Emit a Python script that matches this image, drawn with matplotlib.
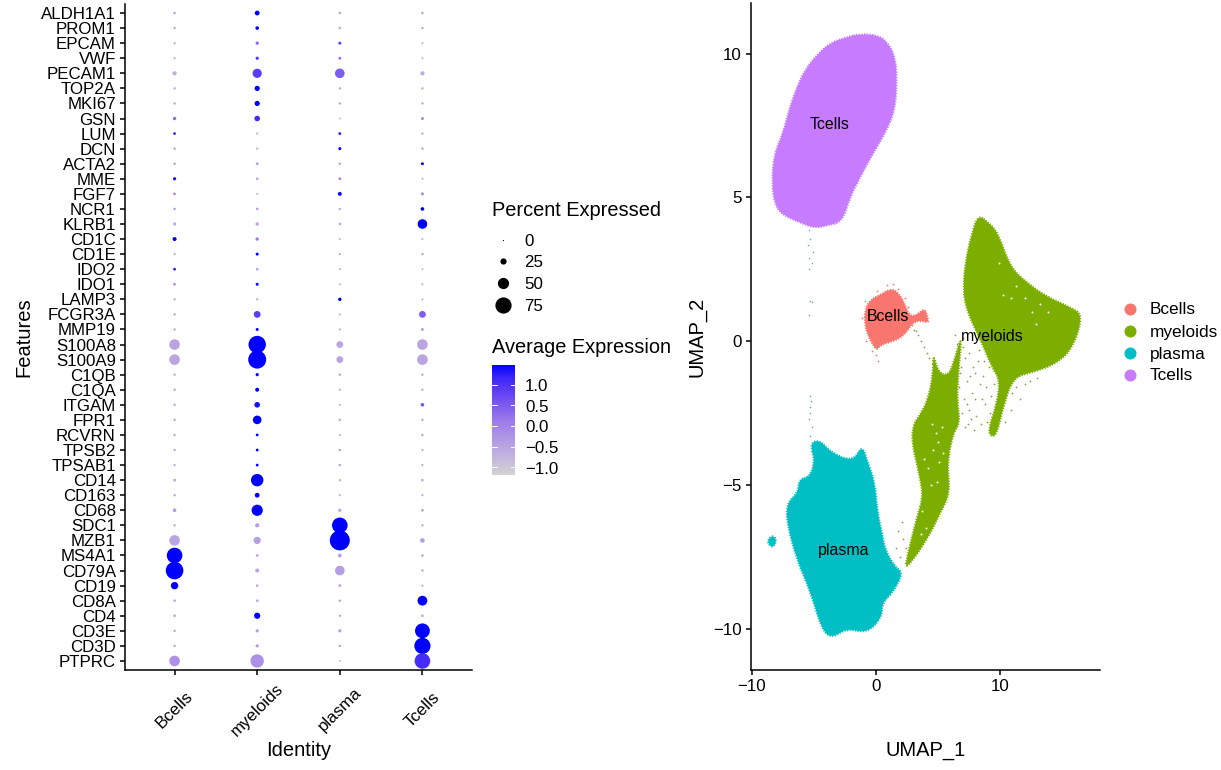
import numpy as np
import matplotlib
matplotlib.use('Agg')
import matplotlib.pyplot as plt
from matplotlib.colors import LinearSegmentedColormap
from matplotlib.patches import PathPatch
from matplotlib.path import Path

plt.rcParams['font.family'] = ['Liberation Sans', 'DejaVu Sans']

W, H = 1221, 770

# Dot plot data, rows from top to bottom
features = ['ALDH1A1', 'PROM1', 'EPCAM', 'VWF', 'PECAM1', 'TOP2A', 'MKI67', 'GSN', 'LUM', 'DCN', 'ACTA2',
            'MME', 'FGF7', 'NCR1', 'KLRB1', 'CD1C', 'CD1E', 'IDO2', 'IDO1', 'LAMP3', 'FCGR3A', 'MMP19',
            'S100A8', 'S100A9', 'C1QB', 'C1QA', 'ITGAM', 'FPR1', 'RCVRN', 'TPSB2', 'TPSAB1', 'CD14',
            'CD163', 'CD68', 'SDC1', 'MZB1', 'MS4A1', 'CD79A', 'CD19', 'CD8A', 'CD4', 'CD3E', 'CD3D', 'PTPRC']
identities = ['Bcells', 'myeloids', 'plasma', 'Tcells']

pct_bcells = [7, 6, 6, 5, 15, 6, 6, 11, 8, 6, 6, 10, 7, 6, 9, 14, 5, 8, 7, 5, 6, 6,
              47, 47, 6, 6, 6, 6, 6, 6, 5, 8, 6, 12, 6, 47, 72, 82, 31, 7, 7, 6, 6, 47]
pct_myeloids = [18, 12, 10, 10, 40, 20, 20, 22, 6, 6, 8, 7, 5, 7, 11, 11, 9, 7, 9, 5, 28, 9,
                81, 84, 10, 14, 22, 37, 8, 8, 8, 56, 18, 50, 15, 30, 8, 14, 7, 7, 25, 10, 10, 61]
pct_plasma = [7, 6, 9, 8, 42, 6, 6, 5, 8, 9, 6, 8, 14, 5, 7, 5, 5, 5, 5, 11, 5, 5,
              28, 28, 6, 5, 5, 6, 5, 6, 6, 6, 5, 10, 72, 94, 13, 42, 8, 6, 6, 10, 6, 5]
pct_tcells = [7, 6, 5, 5, 15, 6, 6, 9, 6, 6, 9, 5, 9, 12, 42, 5, 6, 4, 5, 4, 28, 8,
              47, 47, 6, 6, 12, 6, 6, 5, 5, 7, 5, 8, 6, 17, 7, 6, 5, 43, 7, 68, 75, 72]

avg_bcells = [-0.5, -0.5, -0.7, -0.7, -0.6, -0.5, -0.5, 0.3, 1.2, -0.3, -0.3, 1.4, 0.1, -0.2, -0.5, 1.5, -0.5, 1.3, 0.0, -0.5, -0.5, -0.5,
              -0.5, -0.5, -0.5, -0.5, -0.5, -0.5, -0.5, -0.5, -0.5, -0.5, -0.5, -0.3, -0.5, -0.5, 1.5, 1.5, 1.5, -0.5, -0.4, -0.5, -0.5, -0.2]
avg_myeloids = [1.5, 1.5, 0.4, 1.0, 0.9, 1.5, 1.5, 1.1, -0.9, -0.8, -0.4, -0.5, -0.9, -0.4, -0.5, 0.1, 1.5, -0.4, 1.4, -0.5, 0.9, 1.5,
                1.5, 1.5, 1.5, 1.5, 1.4, 1.5, 1.5, 1.5, 1.5, 1.5, 1.5, 1.5, -0.4, -0.4, -0.5, -0.5, -0.5, -0.5, 1.5, -0.4, -0.4, -0.2]
avg_plasma = [-0.5, -0.5, 0.9, 0.3, 0.5, -0.5, -0.5, -1.0, 1.3, 1.5, -0.4, 0.0, 1.4, -0.4, -0.5, -0.8, -0.5, -0.7, -0.8, 1.5, -0.7, -0.6,
              -0.5, -0.5, -0.4, -0.5, -0.7, -0.5, -0.7, -0.4, -0.4, -0.6, -0.7, -0.5, 1.5, 1.5, -0.4, -0.4, -0.4, -0.4, -0.5, -0.4, -0.4, -1.0]
avg_tcells = [-0.5, -0.5, -0.8, -0.8, -0.6, -0.5, -0.5, -0.1, -0.6, -0.5, 1.5, -0.8, -0.1, 1.5, 1.5, -0.8, -0.5, -0.8, -0.8, -0.5, 0.5, -0.3,
              -0.5, -0.5, -0.5, -0.6, 0.6, -0.5, -0.5, -0.6, -0.6, -0.5, -0.6, -0.5, -0.5, -0.4, -0.5, -0.5, -0.6, 1.5, -0.5, 1.5, 1.5, 1.1]

size_legend = [0, 25, 50, 75]
colorbar_ticks = [1.0, 0.5, 0.0, -0.5, -1.0]
avg_min, avg_max = -1.2, 1.5

# UMAP cluster outlines (UMAP_1, UMAP_2)
tcells_x = [-1.29, 0.16, 0.97, 1.53, 1.69, 1.53, 0.73, -0.24, -1.29, -2.10, -2.74, -3.95, -4.92, -5.97, -7.50, -8.15, -8.39, -8.23, -7.50, -6.94, -6.37, -5.73, -4.76, -3.71, -2.34]
tcells_y = [10.68, 10.64, 10.37, 9.88, 9.18, 8.03, 7.23, 6.54, 5.70, 5.01, 4.14, 4.03, 3.93, 4.10, 4.38, 4.73, 5.50, 6.47, 7.23, 8.14, 8.83, 9.43, 9.95, 10.37, 10.57]

bcells_x = [-0.89, -0.48, 0.32, 1.29, 1.94, 2.34, 2.66, 3.15, 3.55, 3.95, 4.11, 4.27, 3.55, 2.90, 2.58, 1.94, 1.13, 0.32, 0.08, -0.24, -0.65, -0.89]
bcells_y = [1.08, 1.43, 1.60, 1.84, 1.60, 1.25, 0.90, 0.87, 1.01, 1.11, 0.87, 0.63, 0.73, 0.63, 0.38, 0.10, -0.03, -0.14, -0.31, -0.14, 0.21, 0.56]

myeloid_x = [8.23, 7.74, 7.18, 7.02, 7.42, 8.15, 8.79, 9.35, 10.0, 9.76, 9.03, 9.35, 9.76, 10.24, 11.05, 12.66, 14.60, 15.89, 16.69, 15.65, 13.79, 12.18, 10.81, 9.84, 9.03]
myeloid_y = [4.38, 3.76, 2.71, 1.67, 0.97, 0.28, -0.31, -0.90, -1.36, -2.16, -3.10, -3.34, -3.20, -2.30, -1.25, -1.08, -0.77, -0.21, 0.90, 1.18, 1.53, 2.02, 2.57, 3.76, 4.14]

strand_x = [4.60, 5.00, 5.81, 6.29, 6.94, 6.61, 6.53, 6.77, 6.21, 5.73, 5.97, 5.16, 4.11, 2.34, 2.50, 3.31, 3.79, 3.55, 2.90, 2.98, 3.55, 4.19, 4.60]
strand_y = [-0.42, -1.08, -1.22, -0.73, 0.28, -1.18, -2.05, -2.85, -3.20, -4.24, -5.29, -5.98, -6.92, -7.97, -7.51, -6.12, -5.43, -4.73, -3.55, -2.92, -2.57, -2.05, -1.18]

plasma_x = [-5.32, -4.52, -3.71, -1.85, -1.13, -0.73, -0.08, 0.08, 0.48, 0.73, 1.53, 2.18, 1.37, 0.48, 0.48, -0.73, -2.34, -3.55, -4.35, -5.32, -6.37, -7.18, -7.18, -6.29, -6.21, -5.32, -4.92]
plasma_y = [-3.55, -3.44, -3.86, -4.21, -3.62, -4.14, -4.94, -5.88, -6.68, -7.27, -7.86, -8.07, -8.73, -9.11, -9.60, -10.16, -9.98, -10.33, -10.05, -8.66, -7.62, -6.33, -5.63, -5.29, -4.80, -4.73, -4.14]

island_x = [-8.8, -8.4, -8.0, -8.3]
island_y = [-7.0, -6.75, -6.9, -7.2]

# stray cells
trail_x = [-5.4, -5.3, -5.5, -5.1, -5.4, -5.2, -5.4, -5.3, -5.2, -5.4, -5.3, -5.3, -5.4, -5.2, -5.3, -5.25, -5.35]
trail_y = [3.85, 3.55, 3.35, 3.1, 2.9, 2.7, 2.5, 1.4, 1.35, 0.9, -1.9, -2.3, -2.7, -3.0, -3.3, -2.1, -2.5]
stray_x = [7.0, 7.2, 6.8, 7.5, 7.8, 8.2, 8.6, 8.9, 9.1, 7.3, 7.7, 8.0, 8.4, 8.8, 9.2, 7.1, 7.5, 8.1, 8.5, 7.4, 7.9, 8.7,
           6.9, 7.2, 7.6, 3.1, 3.4, 3.6, 3.9, 4.1, 4.3, 2.9, 3.2, 11.0, 10.6, 10.4, 10.9, 12.0, 1.6, 1.9, 2.2, 2.4, 2.7, 1.2, 1.8, 2.1,
           6.7, 6.85, 7.05, 7.35, 7.65, 7.95, 8.3, 8.55, 8.95, 9.3, 9.5, 10.5, 11.3, 11.6, 12.4, 13.0, 6.5, 6.6, 6.4]
stray_y = [-0.2, -0.6, -1.1, -0.4, -0.9, -0.7, -1.2, -1.6, -0.9, -1.4, -1.8, -2.0, -1.5, -2.2, -2.5, -2.0, -2.4, -2.6, -2.9, -2.9, -3.1, -0.7,
           -2.5, -3.0, -1.2, 0.4, 0.2, 0.0, -0.2, -0.4, -0.6, 0.55, 0.35, -1.8, -1.5, -2.8, -2.4, -1.5, -7.2, -7.5, -6.9, -7.2, -7.6, -7.7, -6.6, -6.3,
           -1.6, -0.9, 0.1, -2.2, -2.7, -1.1, -0.3, -2.0, -2.8, -1.9, -1.5, -1.6, -1.6, -2.0, -1.4, -1.3, -0.1, -0.5, 0.2]
bfringe_x = [1.4, 0.9, 0.1, -0.9, -1.1, -0.8, 0.0, 0.2, -0.3, 1.8, 2.3, 2.6]
bfringe_y = [2.0, 1.95, 1.75, 1.4, 0.8, 0.0, -0.5, -0.7, -0.35, 1.8, 1.5, 1.2]
# small gaps inside the strand and the wing
hole_x = [4.5, 4.8, 5.0, 5.3, 4.6, 5.1, 4.2, 3.9, 4.4, 4.9, 5.4, 3.6, 4.0, 3.7, 12.0, 12.6, 13.2, 13.9, 11.3, 10.9, 12.9, 9.9, 10.2]
hole_y = [-2.9, -3.2, -3.5, -3.0, -3.8, -4.2, -4.4, -4.1, -5.0, -4.9, -3.9, -6.7, -6.5, -5.9, 1.5, 1.0, 1.3, 1.0, 1.9, 1.5, 0.6, 2.7, 1.6]

label_x = [0.97, 9.35, -2.58, -3.71]
label_y = [0.87, 0.17, -7.3, 7.55]
cluster_colors = ['#F8766D', '#7CAE00', '#00BFC4', '#C77CFF']

gradient = LinearSegmentedColormap.from_list('grey_blue', [
    (0.0, '#D3D3D3'), (0.25, '#BBA6E2'), (0.5, '#9B7AEB'), (0.75, '#6343F5'), (0.9, '#3A22FB'), (1.0, '#0000FF')])


def pct_to_size(pct):
    # diameter in pixels -> area in points^2
    d_px = 1.2 + 0.2 * np.asarray(pct, dtype=float)
    return (d_px * 0.72) ** 2


def add_axes_px(left, top, right, bottom):
    return fig.add_axes([left / W, 1 - bottom / H, (right - left) / W, (bottom - top) / H])


def style_axes(ax):
    ax.spines['top'].set_visible(False)
    ax.spines['right'].set_visible(False)
    ax.spines['left'].set_linewidth(1.1)
    ax.spines['bottom'].set_linewidth(1.1)
    ax.tick_params(length=3.6, width=1.1, labelsize=12.2, pad=3)


def blob_path(xs, ys):
    # closed outline with rounded corners
    pts = np.column_stack([xs, ys])
    mids = (pts + np.roll(pts, -1, axis=0)) / 2
    verts = [mids[-1]]
    codes = [Path.MOVETO]
    for p, m in zip(pts, mids):
        verts += [p, m]
        codes += [Path.CURVE3, Path.CURVE3]
    return Path(verts, codes)


fig = plt.figure(figsize=(W / 100, H / 100), dpi=100)

# Dot plot
ax1 = add_axes_px(125, 4, 472, 670)
style_axes(ax1)
all_pct = [pct_bcells, pct_myeloids, pct_plasma, pct_tcells]
all_avg = [avg_bcells, avg_myeloids, avg_plasma, avg_tcells]
rows = np.arange(len(features))[::-1]
for i in range(len(identities)):
    ax1.scatter([i] * len(features), rows, s=pct_to_size(all_pct[i]), c=all_avg[i],
                cmap=gradient, vmin=avg_min, vmax=avg_max, linewidths=0, zorder=3)
ax1.set_xlim(-0.6, 3.6)
ax1.set_ylim(-0.6, len(features) - 0.4)
ax1.set_yticks(rows)
ax1.set_yticklabels(features)
ax1.set_xticks(range(len(identities)))
ax1.set_xticklabels(identities, rotation=45, ha='center', va='center')
ax1.tick_params(axis='x', pad=25)
ax1.set_xlabel('Identity', fontsize=14.5, va='center')
ax1.xaxis.set_label_coords(0.5, -81 / 666)
ax1.set_ylabel('Features', fontsize=14.5, va='center')
ax1.yaxis.set_label_coords(-101 / 347, 0.5)

# UMAP
ax2 = add_axes_px(751, 3, 1100, 670)
style_axes(ax2)
shapes = [(tcells_x, tcells_y, 3), (bcells_x, bcells_y, 0), (myeloid_x, myeloid_y, 1),
          (strand_x, strand_y, 1), (plasma_x, plasma_y, 2), (island_x, island_y, 2)]
for sx, sy, c in shapes:
    ax2.add_patch(PathPatch(blob_path(sx, sy), facecolor=cluster_colors[c], edgecolor=cluster_colors[c],
                            linewidth=1.6, linestyle=(0, (0.6, 0.6)), zorder=2))
ax2.scatter(hole_x, hole_y, s=2.0, color='white', linewidths=0, zorder=2.5)
ax2.scatter(trail_x, trail_y, s=1.2, color='#5FA8AE', linewidths=0, zorder=2)
ax2.scatter(stray_x, stray_y, s=1.6, color='#8A9A50', linewidths=0, zorder=2)
ax2.scatter(bfringe_x, bfringe_y, s=1.6, color=cluster_colors[0], linewidths=0, zorder=2)
for name, lx, ly in zip(identities, label_x, label_y):
    ax2.text(lx, ly, name, fontsize=11.4, ha='center', va='center', color='black', zorder=4)
ax2.set_xlim(-10.08, 18.06)
ax2.set_ylim(-11.44, 11.76)
ax2.set_xticks([-10, 0, 10])
ax2.set_xticklabels(['\u221210', '0', '10'])
ax2.set_yticks([-10, -5, 0, 5, 10])
ax2.set_yticklabels(['\u221210', '\u22125', '0', '5', '10'])
ax2.set_xlabel('UMAP_1', fontsize=14.5, va='center')
ax2.xaxis.set_label_coords(0.5, -81 / 667)
ax2.set_ylabel('UMAP_2', fontsize=14.5, va='center')
ax2.yaxis.set_label_coords(-54 / 349, 0.5)

# Legends drawn on an overlay in pixel coordinates
ov = fig.add_axes([0, 0, 1, 1], facecolor='none')
ov.set_xlim(0, W)
ov.set_ylim(H, 0)
ov.axis('off')
ov.text(492, 210.5, 'Percent Expressed', fontsize=14.4, va='center')
for val, yy in zip(size_legend, [240, 261, 283, 305]):
    ov.scatter(503, yy, s=pct_to_size(val), color='black', linewidths=0)
    ov.text(524, yy + 1.5, str(val), fontsize=12.2, va='center')
ov.text(492, 347.5, 'Average Expression', fontsize=14.4, va='center')
ov.imshow(np.linspace(1, 0, 256).reshape(-1, 1), cmap=gradient, aspect='auto', extent=(492, 515, 475, 365), zorder=2)
ov.set_xlim(0, W)
ov.set_ylim(H, 0)
for val in colorbar_ticks:
    yy = 426 - val * 41.3
    ov.plot([492, 496.5], [yy, yy], color='white', lw=0.7, zorder=3)
    ov.plot([510.5, 515], [yy, yy], color='white', lw=0.7, zorder=3)
    ov.text(525, yy + 2, f'{val:.1f}'.replace('-', '\u2212'), fontsize=12.2, va='center')
for name, c, yy in zip(identities, cluster_colors, [309, 331, 353, 375]):
    ov.scatter(1130, yy, s=(12 * 0.72) ** 2, color=c, linewidths=0)
    ov.text(1150, yy + 1, name, fontsize=12.4, va='center')

fig.savefig('out.png', dpi=100)
